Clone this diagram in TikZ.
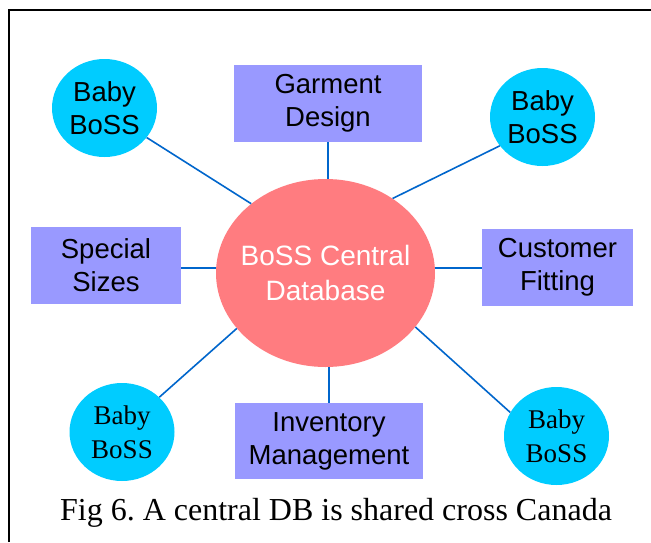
\documentclass[tikz,border=0pt]{standalone}
\usepackage{fontspec}
\setmainfont{Liberation Serif}
\setsansfont{Liberation Sans}
\usetikzlibrary{shapes.geometric}
\definecolor{babyblue}{RGB}{0,204,255}
\definecolor{boxlav}{RGB}{153,153,255}
\definecolor{dbpink}{RGB}{255,124,128}
\definecolor{linkblue}{RGB}{0,102,204}
\frenchspacing
\begin{document}
\begin{tikzpicture}[x=1pt,y=-1pt,
  baby/.style={ellipse,fill=babyblue,draw=none,minimum width=105pt,minimum height=98pt,inner xsep=-6pt,inner ysep=0pt,align=center},
  babysans/.style={baby,font=\sffamily\fontsize{27.5}{33}\selectfont},
  babyserif/.style={baby,font=\rmfamily\fontsize{27}{34}\selectfont},
  task/.style={rectangle,fill=boxlav,draw=none,inner sep=0pt,align=center,minimum height=77pt,font=\sffamily\fontsize{27.5}{33}\selectfont},
  central/.style={ellipse,fill=dbpink,draw=none,minimum width=219pt,minimum height=188pt,inner xsep=-15pt,inner ysep=0pt,align=center,text=white,font=\sffamily\fontsize{28}{35}\selectfont},
  link/.style={draw=linkblue,line width=1.6pt}]
\useasboundingbox (0,0) rectangle (651,542);
\fill[white] (0,0) rectangle (651,542);
\draw[line width=1.4pt] (9,542) -- (9,10) -- (651,10);

\node[central] (db) at (325.5,273) {BoSS Central\\Database};
\node[task,minimum width=188pt] (gd) at (328,103.5) {Garment\\Design};
\node[task,minimum width=150pt] (ss) at (106,265.5) {Special\\Sizes};
\node[task,minimum width=151pt] (cf) at (557.5,267.5) {Customer\\Fitting};
\node[task,minimum width=188pt,minimum height=76pt] (im) at (329,441) {Inventory\\Management};
\node[babysans] (tl) at (104.5,108) {Baby\\BoSS};
\node[babysans] (tr) at (542.5,117) {Baby\\BoSS};
\node[babyserif] (bl) at (122,432) {Baby\\BoSS};
\node[babyserif] (br) at (556.5,436) {Baby\\BoSS};

\draw[link] (gd.south) -- (gd.south |- db.north);
\draw[link] (im.north) -- (im.north |- db.south);
\draw[link] ([yshift=-2.5pt]ss.east) -- ([yshift=-2.5pt]ss.east -| db.west);
\draw[link] ([yshift=-0.5pt]cf.west) -- ([yshift=-0.5pt]cf.west -| db.east);
\draw[link] (tl.-35) -- (db.137);
\draw[link] (tr.214) -- (db.48);
\draw[link] (bl.43) -- (db.212);
\draw[link] (br.153) -- (db.-31);

\node[font=\rmfamily\fontsize{32}{38}\selectfont,anchor=base] (cap) at (336,520) {Fig 6. A central DB is shared cross Canada};
\end{tikzpicture}
\end{document}
